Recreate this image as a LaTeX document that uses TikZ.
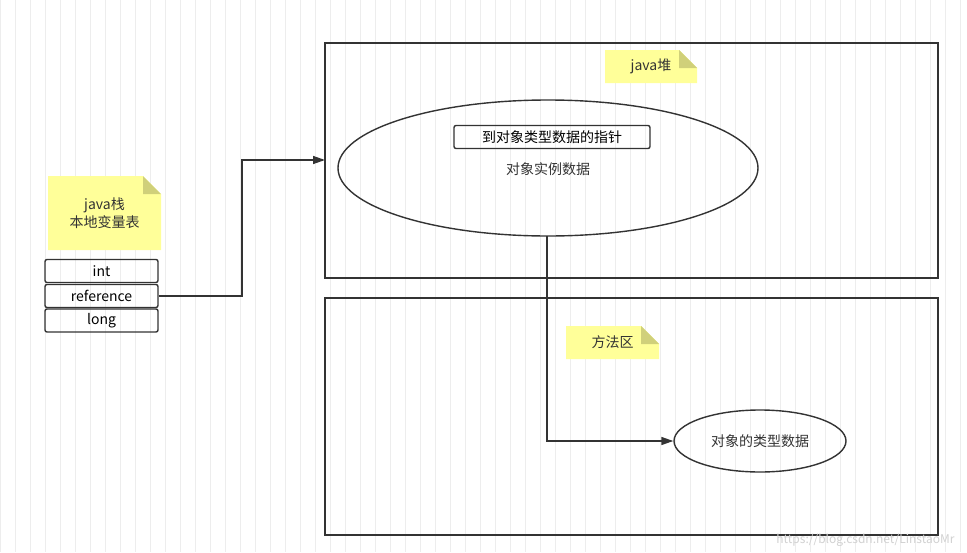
\documentclass[tikz,border=0pt]{standalone}
\usepackage{fontspec}
\setmainfont{Noto Sans CJK SC}
\usetikzlibrary{arrows.meta,shapes.geometric}
\definecolor{note}{HTML}{FFFF99}
\definecolor{fold}{HTML}{D0D07A}
\definecolor{ln}{HTML}{333333}
\tikzset{
 box/.style={draw=ln,line width=1.4pt,rounded corners=2pt,minimum width=113pt,minimum height=23pt,inner sep=0,font=\fontsize{14}{17}\selectfont},
 region/.style={draw=ln,line width=1.4pt},
 oval/.style={draw=ln,line width=1.4pt},
 lbl/.style={font=\fontsize{14}{18}\selectfont,text=ln,align=center},
 conn/.style={draw=ln,line width=1.4pt,-{Triangle[length=12pt,width=8pt]}}
}
\newcommand{\stickynote}[5]{% x1 y1 x2 y2 name
 \fill[note] (#1,#2) -- (#3-18,#2) -- (#3,#2+18) -- (#3,#4) -- (#1,#4) -- cycle;
 \fill[fold] (#3-18,#2) -- (#3,#2+18) -- (#3-18,#2+18) -- cycle;
 \coordinate (#5) at ({(#1+#3)/2},{(#2+#4)/2});}
\begin{document}
\begin{tikzpicture}[x=1pt,y=-1pt]
\useasboundingbox (0,0) rectangle (967,552);
\fill[white] (0,0) rectangle (967,552);
\draw[black!7,line width=0.6pt,step=15] (0,0) grid (967,552);
\draw[region] (325,43) rectangle (938,278);
\draw[region] (325,298) rectangle (938,535);
\stickynote{48}{176}{161}{250}{n1}
\node[lbl] (t1) at (n1) {java栈\\本地变量表};
\stickynote{605}{50}{697}{83}{n2}
\node[lbl] (t2) at (n2) {java堆};
\stickynote{566}{326}{659}{359}{n3}
\node[lbl] (t3) at (n3) {方法区};
\node[box] (int) at (101.5,271) {int};
\node[box] (ref) at (101.5,296) {reference};
\node[box] (long) at (101.5,320.5) {long};
\draw[oval] (548,168) ellipse [x radius=210,y radius=68];
\coordinate (eb) at (547,236);
\node[box,minimum width=196pt,minimum height=23pt] (ptr) at (552,137) {到对象类型数据的指针};
\node[lbl] (inst) at (548,169) {对象实例数据};
\node[oval,ellipse,minimum width=172pt,minimum height=62pt,inner sep=0,lbl] (cls) at (760,441) {对象的类型数据};
\coordinate (heapL) at (325,160);
\draw[conn] (ref.east) -- (242,296) -- (242,160) -- (heapL);
\draw[conn] (eb) -- (547,441) -- (cls.west);
\node[text=black!18,font=\fontsize{12}{14}\selectfont,anchor=east] (wm) at (958,540) {https://blog.csdn.net/LinstaoMr};
\end{tikzpicture}
\end{document}
